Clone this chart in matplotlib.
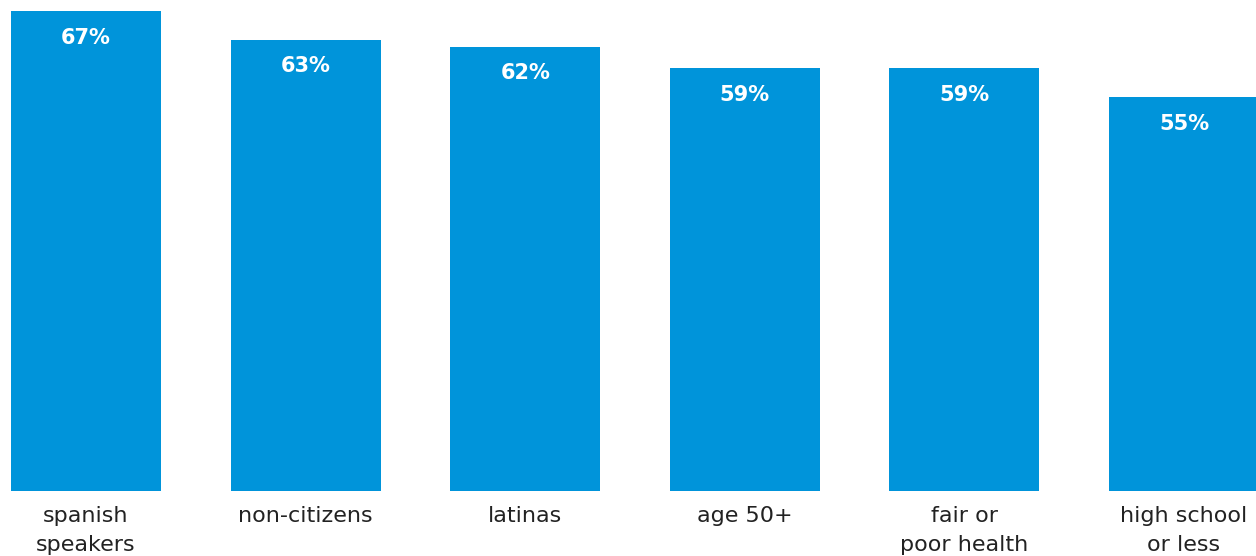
import matplotlib
matplotlib.use("Agg")
import matplotlib.pyplot as plt

categories = ["spanish\nspeakers", "non-citizens", "latinas", "age 50+",
              "fair or\npoor health", "high school\nor less"]
values = [67, 63, 62, 59, 59, 55]
value_labels = [f"{v}%" for v in values]

BAR_COLOR = "#0094DA"

fig = plt.figure(figsize=(12.56, 5.56), dpi=100)
ax = fig.add_axes([0, 65 / 556, 1, 491 / 556])

x = list(range(len(categories)))
bars = ax.bar(x, values, width=0.683, color=BAR_COLOR)

ax.set_xlim(-86 / 219.6, (1256 - 86) / 219.6)
ax.set_ylim(0, 491 / 7.166)

for rect, lab in zip(bars, value_labels):
    ax.annotate(lab, (rect.get_x() + rect.get_width() / 2, rect.get_height()),
                xytext=(0, -12), textcoords="offset points",
                ha="center", va="top", color="white",
                fontsize=15, fontweight="bold", family="DejaVu Sans")

ax.set_xticks(x)
ax.set_xticklabels(categories, fontsize=16, color="#222222",
                   linespacing=1.55, family="DejaVu Sans")
ax.tick_params(axis="x", length=0, pad=11)
ax.set_yticks([])
for s in ax.spines.values():
    s.set_visible(False)

fig.savefig("out.png", dpi=100)
